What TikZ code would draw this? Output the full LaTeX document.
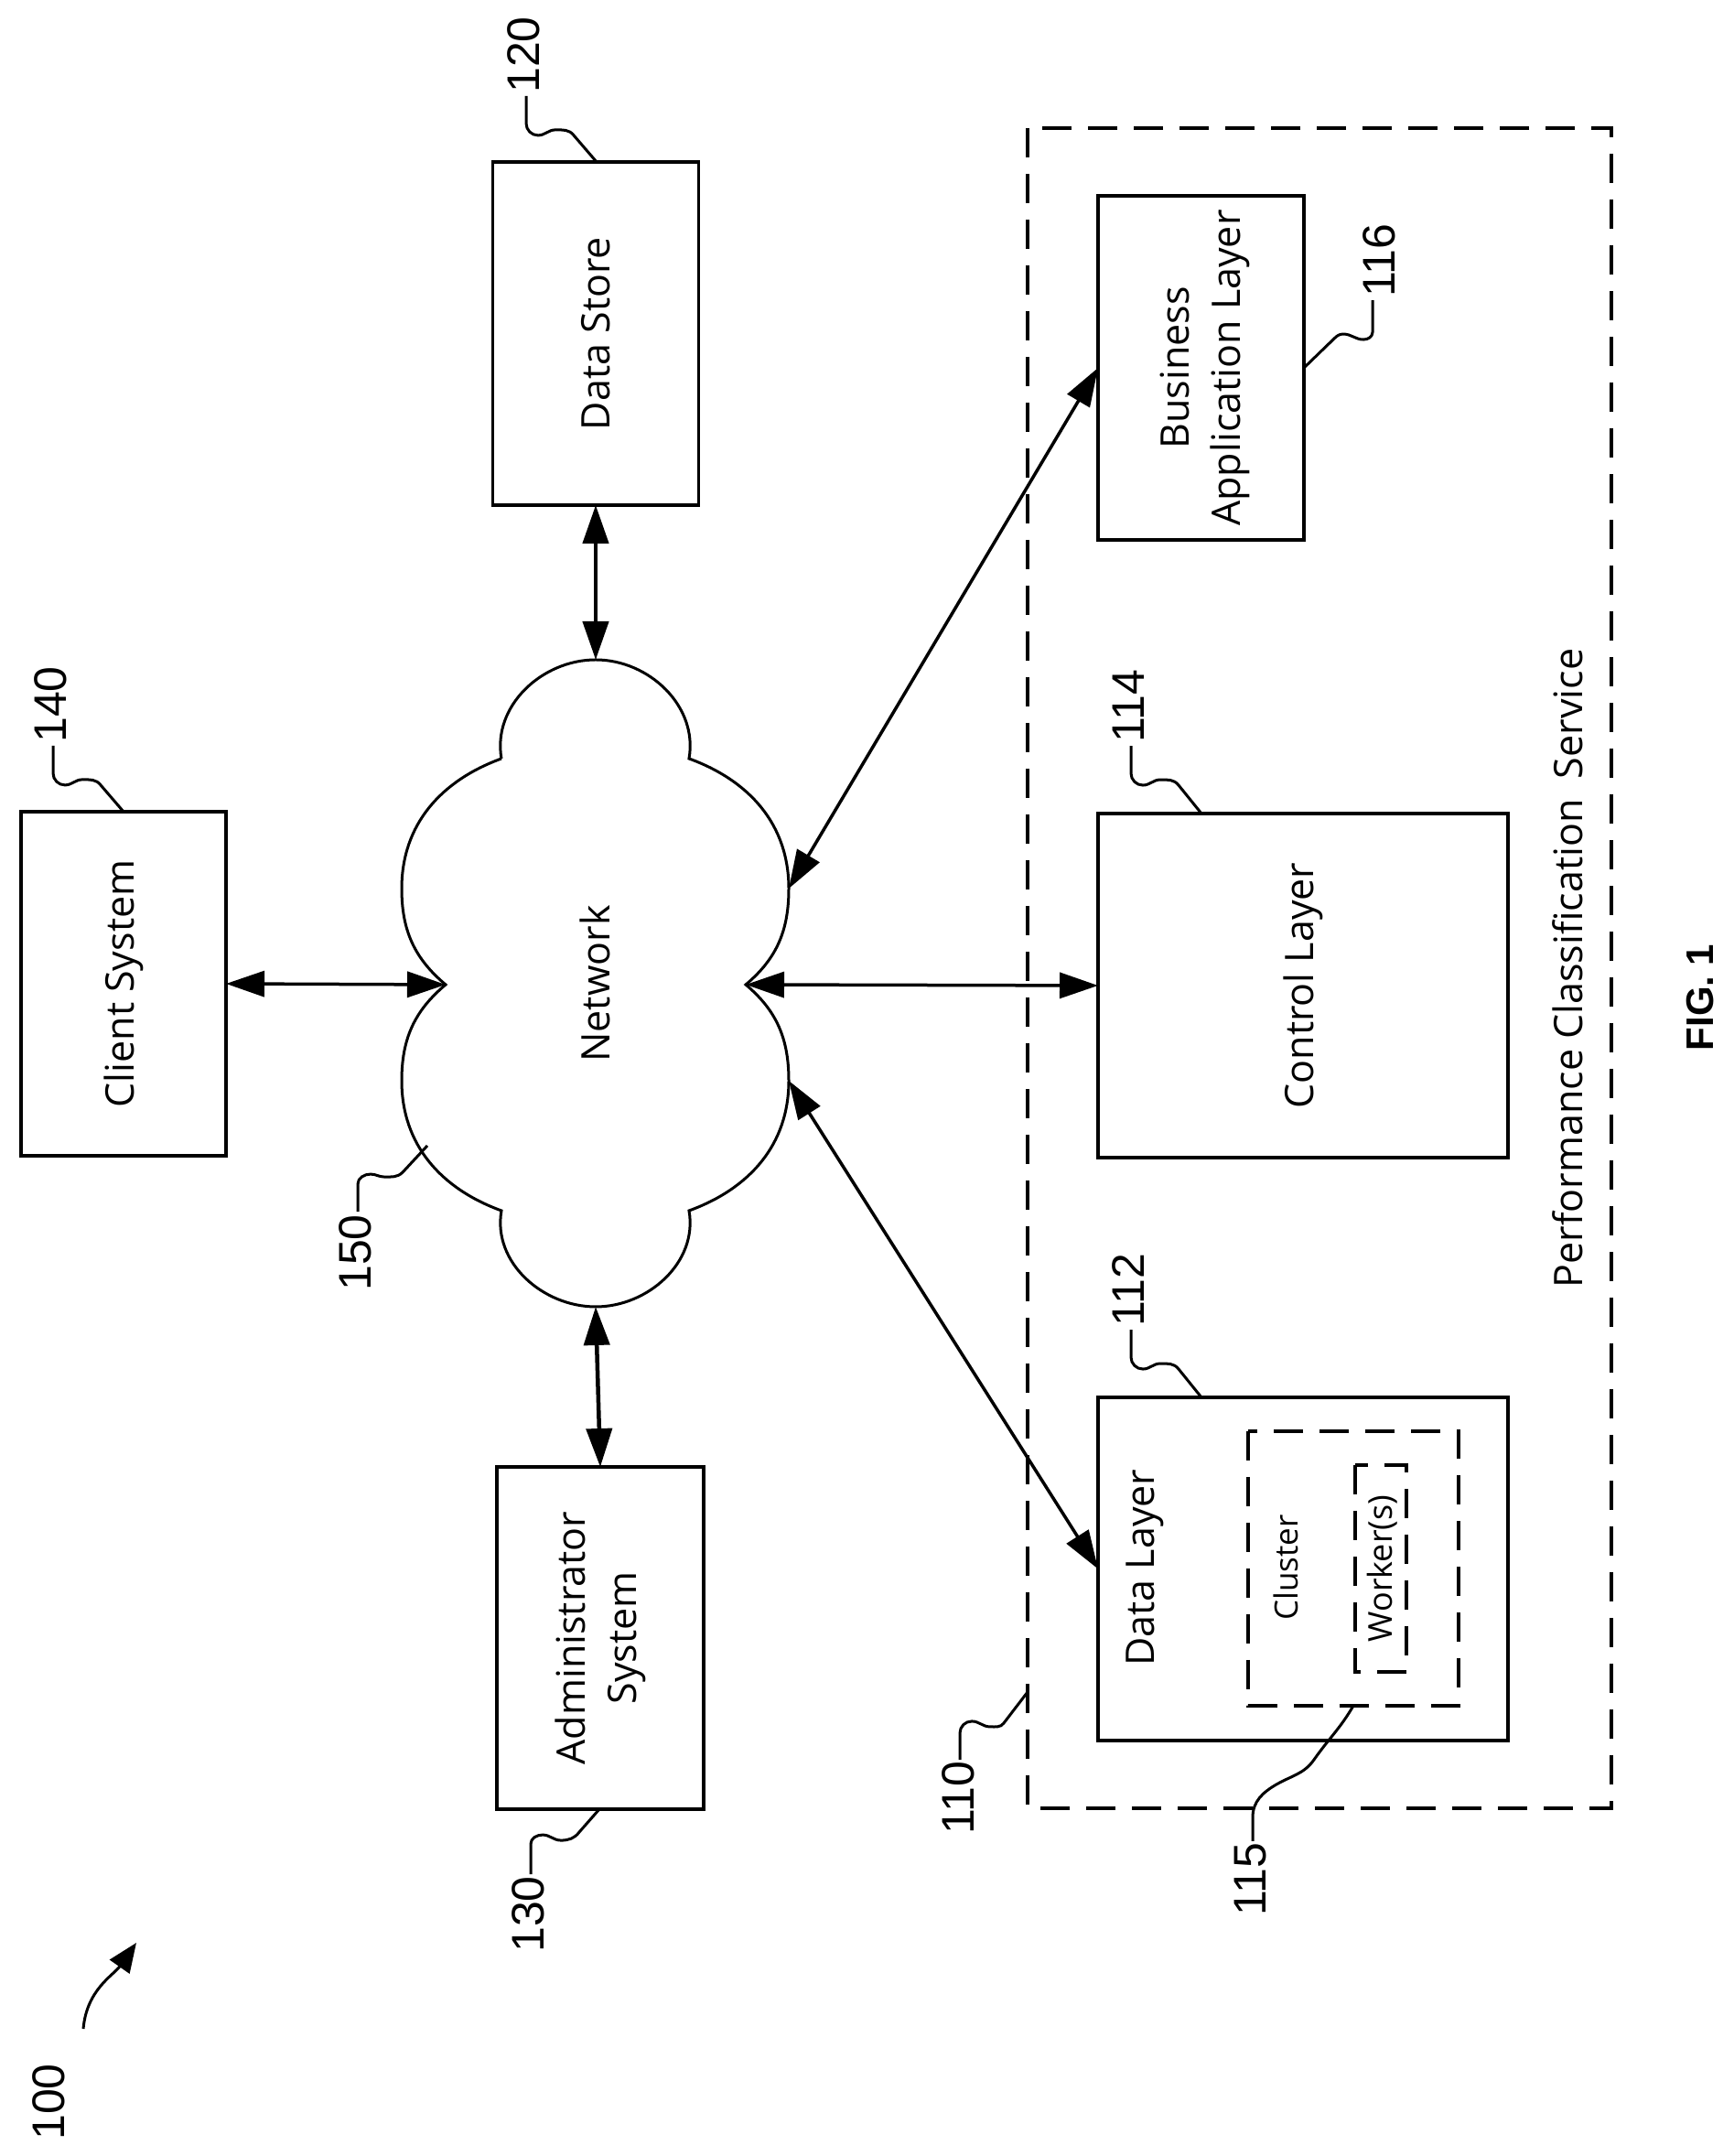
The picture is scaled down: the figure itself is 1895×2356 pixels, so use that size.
\documentclass[tikz,border=0pt]{standalone}
\usepackage{fontspec}
\usepackage{tikz}
\usetikzlibrary{arrows.meta}
\setmainfont{Open Sans}
\newfontfamily\numfont{Liberation Sans}

\tikzset{
  bigtip/.tip = {Triangle[length=42pt, width=28pt]},
  box/.style = {draw, line width = 3.5pt, rotate = 90, outer sep = 0pt, align = center, font = \fontsize{43}{56}\selectfont},
  dashbox/.style = {draw, line width = 3.5pt, rotate = 90, outer sep = 0pt, dash pattern = on 32pt off 18pt},
  txt/.style = {rotate = 90, inner sep = 0pt, align = center, font = \fontsize{43}{56}\selectfont},
  refnum/.style = {rotate = 90, inner sep = 0pt, font = \numfont\fontsize{50}{56}\selectfont},
  link/.style = {line width = 3.5pt, bigtip-bigtip},
  leader/.style = {line width = 3pt}
}

\begin{document}
\begin{tikzpicture}[x = 1pt, y = 1pt]
  \useasboundingbox (0, 0) rectangle (1895, 2356);

  \coordinate (cloudnw) at (548, 1527);
  \coordinate (cloudtop) at (651, 1635);
  \coordinate (cloudne) at (753, 1527);
  \coordinate (cloudeu) at (862, 1385);
  \coordinate (cloudright) at (815, 1280);
  \coordinate (cloudel) at (862, 1175);
  \coordinate (cloudse) at (753, 1033);
  \coordinate (cloudbot) at (651, 928);
  \coordinate (cloudsw) at (548, 1033);
  \coordinate (cloudwl) at (439, 1175);
  \coordinate (cloudleft) at (487, 1280);
  \coordinate (cloudwu) at (439, 1385);
  \draw [line width = 3pt] (cloudnw) to [out = 100, in = 180] (cloudtop) to [out = 0, in = 80] (cloudne)
    to [out = -20, in = 90] (cloudeu) to [out = -90, in = 40] (cloudright)
    to [out = -40, in = 90] (cloudel) to [out = -90, in = 20] (cloudse)
    to [out = -80, in = 0] (cloudbot) to [out = 180, in = -100] (cloudsw)
    to [out = 160, in = -90] (cloudwl) to [out = 90, in = -140] (cloudleft)
    to [out = 140, in = -90] (cloudwu) to [out = 90, in = 200] (cloudnw);
  \node [txt] (network) at (650, 1281) {Network};

  \node [box, minimum width = 375pt, minimum height = 225pt] (datastore) at (651, 1991.5) {Data Store};
  \node [box, minimum width = 376pt, minimum height = 224pt] (client) at (135, 1281) {Client System};
  \node [box, minimum width = 374pt, minimum height = 226pt] (admin) at (656, 566) {Administrator\\System};
  \node [box, minimum width = 376pt, minimum height = 225pt] (business) at (1312.5, 1954) {};
  \node [txt] (businesstext) at (1317, 1954) {Business\\Application Layer};
  \node [box, minimum width = 376pt, minimum height = 448pt] (control) at (1424, 1279) {Control Layer};
  \node [box, minimum width = 375pt, minimum height = 448pt] (datalayer) at (1424, 641.5) {};
  \node [txt] (datatext) at (1251, 643) {Data Layer};
  \node [dashbox, minimum width = 300pt, minimum height = 230pt] (cluster) at (1479, 642) {};
  \node [txt, font = \fontsize{35}{42}\selectfont] (clustertext) at (1405, 643) {Cluster};
  \node [dashbox, minimum width = 226pt, minimum height = 56pt] (workers) at (1509, 642) {};
  \node [txt, font = \fontsize{36}{42}\selectfont] (workertext) at (1511, 642) {Worker(s)};
  \node [dashbox, minimum width = 1836pt, minimum height = 638pt] (service) at (1442, 1298) {};
  \node [txt] (servicetext) at (1713, 1298) {Performance Classification\ \ Service};
  \node [refnum, font = \numfont\bfseries\fontsize{42}{48}\selectfont] (figlabel) at (1858, 1266) {FIG. 1};

  \draw [link, line width = 4.5pt] (cloudtop) -- (datastore.west);
  \draw [link, line width = 4.5pt] (cloudbot) -- (admin.east);
  \draw [link] (cloudleft) -- (client.south);
  \draw [link] (cloudright) -- (control.north);
  \draw [link] (cloudeu) -- (business.north);
  \draw [link] (cloudel) -- (datalayer.north);

  \node [refnum] (n100) at (53, 59) {100};
  \node [refnum] (n110) at (1047, 391) {110};
  \node [refnum] (n112) at (1233, 946) {112};
  \node [refnum] (n114) at (1233, 1584) {114};
  \node [refnum] (n115) at (1367, 302) {115};
  \node [refnum] (n116) at (1507, 2071) {116};
  \node [refnum] (n120) at (572, 2296) {120};
  \node [refnum] (n130) at (577, 264) {130};
  \node [refnum] (n140) at (55, 1586) {140};
  \node [refnum] (n150) at (388, 987) {150};

  \coordinate (sweepstart) at (91, 139);
  \coordinate (sweepend) at (149, 233);
  \coordinate (p110) at (1123, 507);
  \coordinate (p112) at (1313, 829);
  \coordinate (p114) at (1313, 1467);
  \coordinate (p115) at (1479, 492);
  \coordinate (p116) at (1425, 1954);
  \coordinate (p120) at (652, 2179);
  \coordinate (p130) at (655, 379);
  \coordinate (p140) at (135, 1469);
  \coordinate (p150) at (467, 1104);

  \draw [leader, -{Triangle[length=32pt, width=26pt]}] (sweepstart) to [out = 85, in = -125] (sweepend);
  \draw [leader] (n120.west) ++(3, -3) -- ++(0, -30) to [out = -90, in = 180] ++(13, -13) to [out = 0, in = 180] ++(19, 6) to [out = 0, in = 127] ++(20, -6) -- (p120);
  \draw [leader] (n140.west) ++(3, -3) -- ++(0, -30) to [out = -90, in = 180] ++(13, -13) to [out = 0, in = 180] ++(19, 6) to [out = 0, in = 127] ++(20, -6) -- (p140);
  \draw [leader] (n114.west) ++(3, -3) -- ++(0, -30) to [out = -90, in = 180] ++(13, -13) to [out = 0, in = 180] ++(19, 6) to [out = 0, in = 127] ++(20, -6) -- (p114);
  \draw [leader] (n112.west) ++(3, -3) -- ++(0, -30) to [out = -90, in = 180] ++(13, -13) to [out = 0, in = 180] ++(19, 6) to [out = 0, in = 127] ++(20, -6) -- (p112);
  \draw [leader] (n116.west) ++(-7, -3) -- ++(0, -35) to [out = -90, in = 0] ++(-10, -8) to [out = 180, in = 0] ++(-22, 6) to [out = 180, in = 45] ++(-10, -5) -- (p116);
  \draw [leader] (n130.east) ++(3, 2) -- ++(0, 33) to [out = 90, in = 180] ++(13, 10) to [out = 0, in = 180] ++(20, -6) to [out = 0, in = -127] ++(20, 9) -- (p130);
  \draw [leader] (n110.east) ++(2, 2) -- ++(0, 29) to [out = 90, in = 180] ++(13, 13) to [out = 0, in = 180] ++(20, -6) to [out = 0, in = -125] ++(15, 4) -- (p110);
  \draw [leader] (n150.east) ++(3, 3) -- ++(0, 30) to [out = 90, in = 180] ++(14, 11) to [out = 0, in = 180] ++(15, -3) to [out = 0, in = -135] ++(20, 5) -- (p150);
  \draw [leader] (n115.east) ++(2, 2) -- ++(0, 26) to [out = 90, in = -150] ++(26, 36) to [out = 30, in = -125] ++(41, 27) to [out = 55, in = -120] (p115);
\end{tikzpicture}
\end{document}
